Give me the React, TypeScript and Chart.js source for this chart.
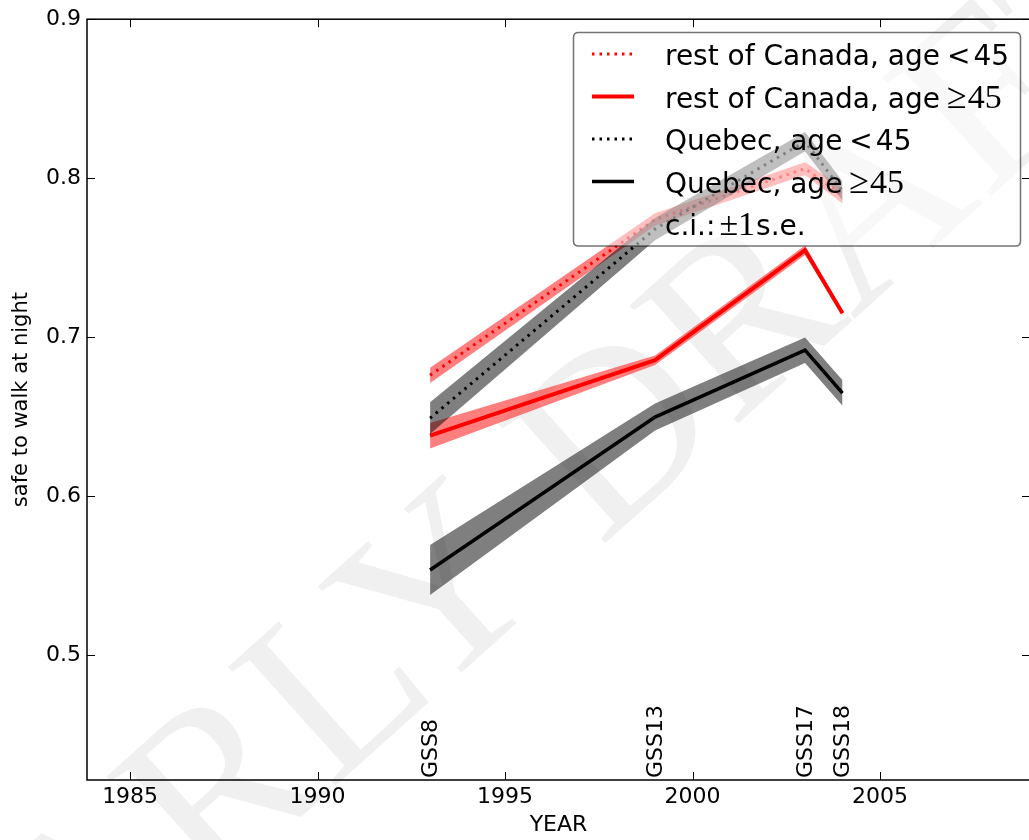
import React, { useEffect, useRef } from 'react';
import { Chart, registerables } from 'chart.js';

Chart.register(...registerables);

// ---- data ----
const years = [1993, 1999, 2003, 2004];
const surveyLabels = ['GSS8', 'GSS13', 'GSS17', 'GSS18'];

const restYoung = [0.676, 0.774, 0.806, 0.789];
const restYoungSE = [0.0048, 0.004, 0.004, 0.005];
const restOld = [0.638, 0.6855, 0.7547, 0.715];
const restOldSE = [0.008, 0.003, 0.003, 0.0015];
const quebecYoung = [0.649, 0.768, 0.823, 0.792];
const quebecYoungSE = [0.01, 0.007, 0.006, 0.006];
const quebecOld = [0.5535, 0.6497, 0.6918, 0.6648];
const quebecOldSE = [0.0157, 0.0085, 0.008, 0.008];

const xTicks = [1985, 1990, 1995, 2000, 2005];
const yTicks = [0.5, 0.6, 0.7, 0.8, 0.9];

const legendMain = ['rest of Canada, age', 'rest of Canada, age', 'Quebec, age', 'Quebec, age'];
const legendMath = ['<', '\u2265', '<', '\u2265'];
const legendMathSerif = [false, true, false, true];

const SANS = "'DejaVu Sans', sans-serif";
const SERIF = "'Liberation Serif', serif";

export default function App() {
  const ref = useRef<HTMLCanvasElement>(null);

  useEffect(() => {
    if (!ref.current) return;
    Chart.defaults.font.family = SANS;
    Chart.defaults.color = '#000';

    const series = [
      { vals: restYoung, se: restYoungSE, color: '#ff0000', band: 'rgba(255,0,0,0.5)', dash: [2.5, 5], width: 3 },
      { vals: restOld, se: restOldSE, color: '#ff0000', band: 'rgba(255,0,0,0.5)', dash: [], width: 4 },
      { vals: quebecYoung, se: quebecYoungSE, color: '#000000', band: 'rgba(0,0,0,0.5)', dash: [2.5, 5], width: 3 },
      { vals: quebecOld, se: quebecOldSE, color: '#000000', band: 'rgba(0,0,0,0.5)', dash: [], width: 3.5 },
    ];

    const datasets: any[] = [];
    series.forEach((s) => {
      const lowerIdx = datasets.length;
      datasets.push({
        data: years.map((x, i) => ({ x, y: s.vals[i] - s.se[i] })),
        borderWidth: 0,
        borderColor: 'rgba(0,0,0,0)',
        pointRadius: 0,
        fill: false,
      });
      datasets.push({
        data: years.map((x, i) => ({ x, y: s.vals[i] + s.se[i] })),
        borderWidth: 0,
        borderColor: 'rgba(0,0,0,0)',
        backgroundColor: s.band,
        pointRadius: 0,
        fill: lowerIdx,
      });
      datasets.push({
        data: years.map((x, i) => ({ x, y: s.vals[i] })),
        borderColor: s.color,
        borderWidth: s.width,
        borderDash: s.dash,
        borderCapStyle: 'butt',
        borderJoinStyle: 'miter',
        pointRadius: 0,
        fill: false,
      });
    });
    datasets.forEach((d, i) => {
      d.order = datasets.length - i;
      d.tension = 0;
    });

    const watermark = {
      id: 'watermark',
      beforeDraw(chart: any) {
        const ctx = chart.ctx;
        ctx.save();
        ctx.font = `245px ${SERIF}`;
        const ang = (-42 * Math.PI) / 180;
        const pre = ctx.measureText('EARLY ').width;
        const dx = 600 - Math.cos(ang) * pre;
        const dy = 548 - Math.sin(ang) * pre;
        ctx.translate(dx, dy);
        ctx.rotate(ang);
        ctx.fillStyle = 'rgba(0,0,0,0.06)';
        ctx.textAlign = 'left';
        ctx.textBaseline = 'alphabetic';
        ctx.fillText('EARLY DRAFT', 0, 0);
        ctx.restore();
      },
    };

    const decorations = {
      id: 'decorations',
      afterDatasetsDraw(chart: any) {
        const ctx = chart.ctx;
        const { left, right, top, bottom } = chart.chartArea;
        const xs = chart.scales.x;
        const ys = chart.scales.y;
        ctx.save();
        // spines
        ctx.strokeStyle = '#000';
        ctx.lineWidth = 1.5;
        ctx.strokeRect(left, top, right - left, bottom - top);
        // inward ticks
        ctx.lineWidth = 1;
        const tl = 8;
        ctx.beginPath();
        xTicks.forEach((v) => {
          const px = Math.round(xs.getPixelForValue(v)) + 0.5;
          ctx.moveTo(px, bottom);
          ctx.lineTo(px, bottom - tl);
          ctx.moveTo(px, top);
          ctx.lineTo(px, top + tl);
        });
        yTicks.forEach((v) => {
          const py = Math.round(ys.getPixelForValue(v)) + 0.5;
          ctx.moveTo(left, py);
          ctx.lineTo(left + tl, py);
          ctx.moveTo(right, py);
          ctx.lineTo(right - tl, py);
        });
        ctx.stroke();

        // survey labels (rotated)
        ctx.fillStyle = '#000';
        ctx.font = `22px ${SANS}`;
        ctx.textAlign = 'left';
        ctx.textBaseline = 'middle';
        years.forEach((yr, i) => {
          const px = xs.getPixelForValue(yr);
          ctx.save();
          ctx.translate(px, bottom - 2);
          ctx.rotate(-Math.PI / 2);
          ctx.fillText(surveyLabels[i], 0, 1);
          ctx.restore();
        });

        // legend
        const bx = 573.5, by = 32.5, bw = 447, bh = 213.5, r = 5;
        ctx.beginPath();
        ctx.moveTo(bx + r, by);
        ctx.lineTo(bx + bw - r, by);
        ctx.quadraticCurveTo(bx + bw, by, bx + bw, by + r);
        ctx.lineTo(bx + bw, by + bh - r);
        ctx.quadraticCurveTo(bx + bw, by + bh, bx + bw - r, by + bh);
        ctx.lineTo(bx + r, by + bh);
        ctx.quadraticCurveTo(bx, by + bh, bx, by + bh - r);
        ctx.lineTo(bx, by + r);
        ctx.quadraticCurveTo(bx, by, bx + r, by);
        ctx.closePath();
        ctx.fillStyle = 'rgba(255,255,255,0.5)';
        ctx.fill();
        ctx.strokeStyle = 'rgba(0,0,0,0.55)';
        ctx.lineWidth = 1.5;
        ctx.stroke();

        const baselines = [65, 107.5, 150, 192.5, 235];
        const textX = 665;
        ctx.textBaseline = 'alphabetic';
        ctx.textAlign = 'left';
        for (let i = 0; i < 4; i++) {
          const s = series[i];
          const ly = baselines[i] - 11;
          ctx.beginPath();
          ctx.strokeStyle = s.color;
          ctx.lineWidth = s.width;
          ctx.setLineDash(s.dash);
          ctx.moveTo(592, ly);
          ctx.lineTo(634, ly);
          ctx.stroke();
          ctx.setLineDash([]);

          ctx.fillStyle = '#000';
          ctx.font = `28px ${SANS}`;
          ctx.fillText(legendMain[i], textX, baselines[i]);
          let x = textX + ctx.measureText(legendMain[i]).width + 7;
          if (legendMathSerif[i]) {
            ctx.font = `36px ${SERIF}`;
            ctx.fillText(legendMath[i], x, baselines[i]);
            x += ctx.measureText(legendMath[i]).width + 1;
            ctx.font = `34px ${SERIF}`;
            ctx.fillText('45', x, baselines[i]);
          } else {
            ctx.font = `28px ${SANS}`;
            ctx.fillText(legendMath[i], x, baselines[i]);
            x += ctx.measureText(legendMath[i]).width + 3;
            ctx.fillText('45', x, baselines[i]);
          }
        }
        // c.i. row
        let x5 = textX;
        const b5 = baselines[4];
        ctx.font = `28px ${SANS}`;
        ctx.fillText('c.i.:', x5, b5);
        x5 += ctx.measureText('c.i.:').width + 4;
        ctx.font = `34px ${SERIF}`;
        ctx.fillText('\u00b11', x5, b5);
        x5 += ctx.measureText('\u00b11').width + 1;
        ctx.font = `28px ${SANS}`;
        ctx.fillText('s.e.', x5, b5);

        ctx.restore();
      },
    };

    const chart = new Chart(ref.current, {
      type: 'line',
      data: { datasets },
      options: {
        animation: false,
        responsive: false,
        devicePixelRatio: 1,
        layout: { padding: { top: 19, right: 3, left: 0, bottom: 0 } },
        plugins: {
          legend: { display: false },
          tooltip: { enabled: false },
        },
        scales: {
          x: {
            type: 'linear',
            min: 1983.85,
            max: 2009,
            grid: { display: false, drawTicks: false },
            border: { display: false },
            ticks: {
              font: { size: 22, family: SANS },
              color: '#000',
              padding: 4,
              maxRotation: 0,
              callback: (v: any) => String(v),
            },
            afterBuildTicks: (scale: any) => {
              scale.ticks = xTicks.map((v) => ({ value: v }));
            },
            afterFit: (scale: any) => {
              scale.height = 60;
            },
            title: {
              display: true,
              text: 'YEAR',
              font: { size: 22, family: SANS },
              color: '#000',
              padding: { top: 0, bottom: 2 },
            },
          },
          y: {
            type: 'linear',
            min: 0.4214,
            max: 0.9,
            grid: { display: false, drawTicks: false },
            border: { display: false },
            ticks: {
              font: { size: 22, family: SANS },
              color: '#000',
              padding: 6,
              callback: (v: any) => Number(v).toFixed(1),
            },
            afterBuildTicks: (scale: any) => {
              scale.ticks = yTicks.map((v) => ({ value: v }));
            },
            afterFit: (scale: any) => {
              scale.width = 87;
            },
            title: {
              display: true,
              text: 'safe to walk at night',
              font: { size: 21, family: SANS },
              color: '#000',
              padding: { top: 9, bottom: 0 },
            },
          },
        },
      } as any,
      plugins: [watermark, decorations],
    });
    return () => chart.destroy();
  }, []);

  return (
    <div style={{ position: 'absolute', left: 0, top: 0, width: 1029, height: 840, overflow: 'hidden', background: '#fff' }}>
      <canvas ref={ref} width={1033} height={840} style={{ display: 'block' }} />
    </div>
  );
}
